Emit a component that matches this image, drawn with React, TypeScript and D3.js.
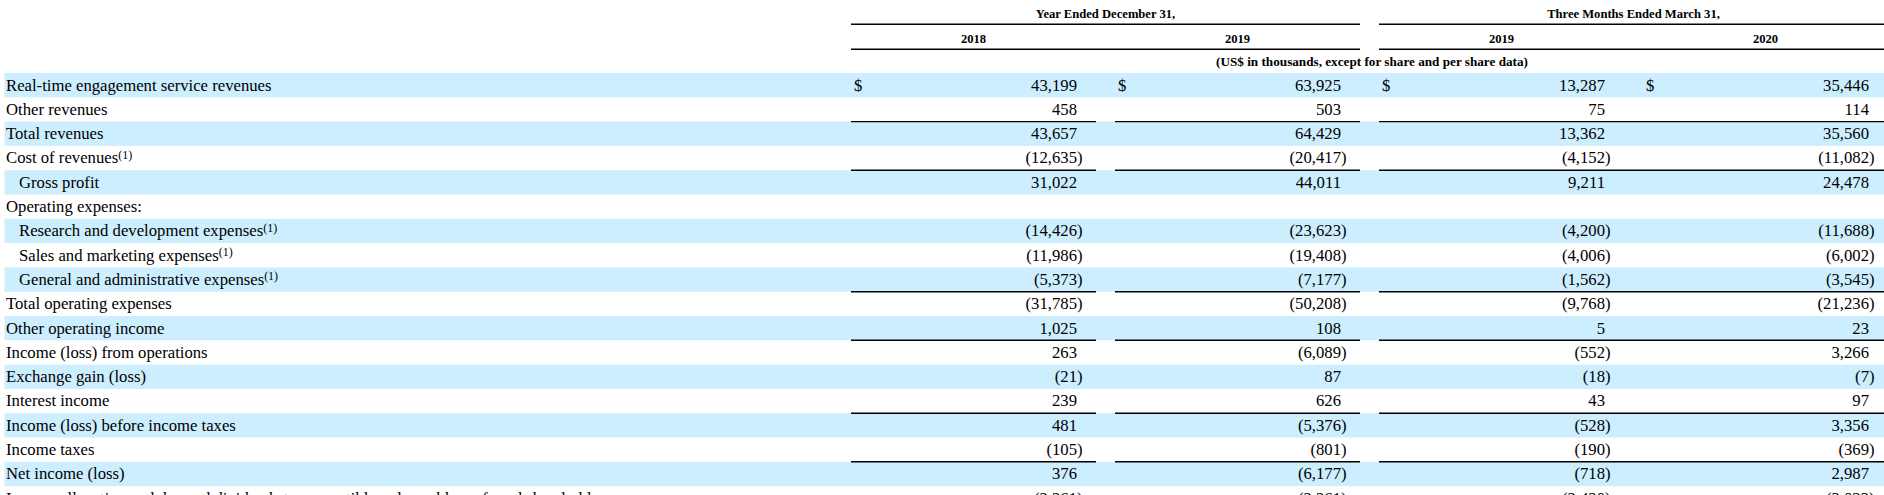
import React from "react";
import * as d3 from "d3";

const W = 1884;
const H = 495;

const groupHeaders = ["Year Ended December 31,", "Three Months Ended March 31,"];
const columnYears = ["2018", "2019", "2019", "2020"];
const unitNote = "(US$ in thousands, except for share and per share data)";

const rowLabels = [
  "Real-time engagement service revenues",
  "Other revenues",
  "Total revenues",
  "Cost of revenues",
  "Gross profit",
  "Operating expenses:",
  "Research and development expenses",
  "Sales and marketing expenses",
  "General and administrative expenses",
  "Total operating expenses",
  "Other operating income",
  "Income (loss) from operations",
  "Exchange gain (loss)",
  "Interest income",
  "Income (loss) before income taxes",
  "Income taxes",
  "Net income (loss)",
  "Income allocation and deemed dividends to convertible redeemable preferred shareholders",
];
const indentedRows = [4, 6, 7, 8];
const footnoteRows = [3, 6, 7, 8];
const dollarRows = [0];
const totalRows = [2, 4, 9, 11, 14, 16];

const fy2018 = [43199, 458, 43657, -12635, 31022, null, -14426, -11986, -5373, -31785, 1025, 263, -21, 239, 481, -105, 376, -2261];
const fy2019 = [63925, 503, 64429, -20417, 44011, null, -23623, -19408, -7177, -50208, 108, -6089, 87, 626, -5376, -801, -6177, -2261];
const q12019 = [13287, 75, 13362, -4152, 9211, null, -4200, -4006, -1562, -9768, 5, -552, -18, 43, -528, -190, -718, -2420];
const q12020 = [35446, 114, 35560, -11082, 24478, null, -11688, -6002, -3545, -21236, 23, 3266, -7, 97, 3356, -369, 2987, -3023];

const series = [fy2018, fy2019, q12019, q12020];

const FONT = "'Liberation Serif', 'Times New Roman', Times, serif";
const BLUE = "#CCEEFF";

export default function App() {
  const rowIdx = rowLabels.map((_, i) => i);
  const y = d3.scaleBand<number>().domain(rowIdx).range([73, 73 + 24.3 * rowLabels.length]).padding(0);
  const colIdx = [0, 1, 2, 3];
  const x = d3.scaleBand<number>().domain(colIdx).range([851, 1888]).paddingInner(19 / 264).paddingOuter(0);
  const bw = x.bandwidth();
  const fmt = d3.format(",");

  const groupSpans = [
    [x(0)!, x(1)! + bw],
    [x(2)!, x(3)! + bw],
  ];
  const ruleSpans = [
    [x(0)!, x(0)! + bw],
    [x(1)!, x(1)! + bw],
    [x(2)!, x(3)! + bw],
  ];

  return (
    <svg
      width={W}
      height={H}
      style={{ position: "absolute", left: 0, top: 0, overflow: "hidden", background: "#fff" }}
      fontFamily={FONT}
    >
      <rect x={0} y={0} width={W} height={H} fill="#fff" />
      {rowIdx.map((i) =>
        i % 2 === 0 && i < 17 ? (
          <rect key={"b" + i} x={4.5} y={y(i)!} width={W - 4.5} height={y.bandwidth()} fill={BLUE} />
        ) : null
      )}

      {groupHeaders.map((g, gi) => (
        <g key={"g" + gi}>
          <text
            x={(groupSpans[gi][0] + groupSpans[gi][1]) / 2}
            y={18}
            textAnchor="middle"
            fontSize={12.6}
            fontWeight="bold"
          >
            {g}
          </text>
          <line x1={groupSpans[gi][0]} x2={groupSpans[gi][1]} y1={24.3} y2={24.3} stroke="#000" strokeWidth={1.4} />
          <line x1={groupSpans[gi][0]} x2={groupSpans[gi][1]} y1={49.3} y2={49.3} stroke="#000" strokeWidth={1.4} />
        </g>
      ))}
      {columnYears.map((yr, ci) => (
        <text key={"yr" + ci} x={x(ci)! + bw / 2} y={42.5} textAnchor="middle" fontSize={12.6} fontWeight="bold">
          {yr}
        </text>
      ))}
      <text x={1372} y={66} textAnchor="middle" fontSize={13.2} fontWeight="bold">
        {unitNote}
      </text>

      {rowLabels.map((lab, i) => (
        <text key={"l" + i} x={indentedRows.includes(i) ? 19 : 6} y={y(i)! + 17.5} fontSize={16.7}>
          {lab}
          {footnoteRows.includes(i) ? (
            <tspan fontSize={12} dy={-4.5}>
              (1)
            </tspan>
          ) : null}
        </text>
      ))}

      {series.map((vals, ci) =>
        vals.map((v, i) => {
          if (v === null) return null;
          const right = x(ci)! + 226;
          const base = y(i)! + 17.5;
          return (
            <g key={"v" + ci + "-" + i}>
              {dollarRows.includes(i) ? (
                <text x={x(ci)! + 3} y={base} fontSize={16.7}>
                  $
                </text>
              ) : null}
              <text x={right} y={base} fontSize={16.7} textAnchor="end">
                {v < 0 ? "(" + fmt(-v) : fmt(v)}
              </text>
              {v < 0 ? (
                <text x={right} y={base} fontSize={16.7}>
                  )
                </text>
              ) : null}
            </g>
          );
        })
      )}

      {totalRows.map((r) =>
        ruleSpans.map((s, k) => (
          <line key={"r" + r + "-" + k} x1={s[0]} x2={s[1]} y1={y(r)!} y2={y(r)!} stroke="#000" strokeWidth={1.4} />
        ))
      )}
    </svg>
  );
}
